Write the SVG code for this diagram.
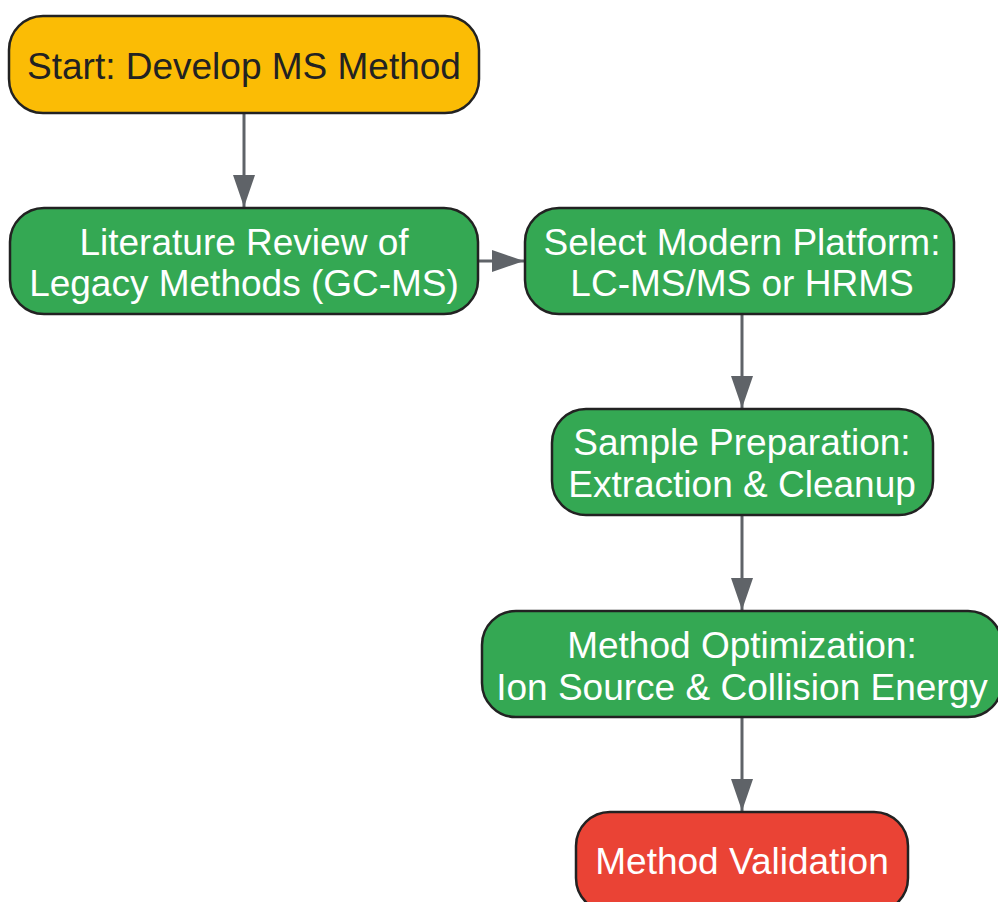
<svg xmlns="http://www.w3.org/2000/svg" width="998" height="902" viewBox="0 0 998 902">
<style>
.n{stroke:#222;stroke-width:2.5}
.y{fill:#FBBC05}.g{fill:#34A853}.r{fill:#EA4335}
.t{font-family:"Liberation Sans",Arial,sans-serif;font-size:37px;text-anchor:middle}
.w{fill:#fff}.k{fill:#222}
.c{stroke:#5F6368;stroke-width:3;fill:none}
</style>
<defs>
<marker id="ah" markerUnits="userSpaceOnUse" viewBox="0 0 32 22" refX="32" refY="11" markerWidth="32" markerHeight="22" orient="auto">
<path d="M0,0 L32,11 L0,22 Z" fill="#5F6368"/>
</marker>
</defs>
<g id="connectors">
<line class="c" x1="244" y1="113" x2="244" y2="207" marker-end="url(#ah)"/>
<line class="c" x1="478" y1="261" x2="524" y2="261" marker-end="url(#ah)"/>
<line class="c" x1="742" y1="314" x2="742" y2="408" marker-end="url(#ah)"/>
<line class="c" x1="742" y1="515" x2="742" y2="610" marker-end="url(#ah)"/>
<line class="c" x1="742" y1="717" x2="742" y2="811" marker-end="url(#ah)"/>
</g>
<g id="start">
<rect class="n y" x="9" y="16" width="470" height="97" rx="34"/>
<text class="t k" x="244" y="79">Start: Develop MS Method</text>
</g>
<g id="literature">
<rect class="n g" x="10" y="208" width="468" height="106" rx="34"/>
<text class="t w" x="244" y="255">Literature Review of</text>
<text class="t w" x="244" y="296">Legacy Methods (GC-MS)</text>
</g>
<g id="select">
<rect class="n g" x="525" y="208" width="429" height="106" rx="34"/>
<text class="t w" x="742" y="255">Select Modern Platform:</text>
<text class="t w" x="742" y="296">LC-MS/MS or HRMS</text>
</g>
<g id="sample">
<rect class="n g" x="552" y="409" width="381" height="106" rx="34"/>
<text class="t w" x="742" y="455">Sample Preparation:</text>
<text class="t w" x="742" y="497">Extraction &amp; Cleanup</text>
</g>
<g id="optimization">
<rect class="n g" x="482" y="611" width="520" height="106" rx="34"/>
<text class="t w" x="742" y="658">Method Optimization:</text>
<text class="t w" x="742" y="700">Ion Source &amp; Collision Energy</text>
</g>
<g id="validation">
<rect class="n r" x="576" y="812" width="332" height="100" rx="34"/>
<text class="t w" x="742" y="874">Method Validation</text>
</g>
</svg>
